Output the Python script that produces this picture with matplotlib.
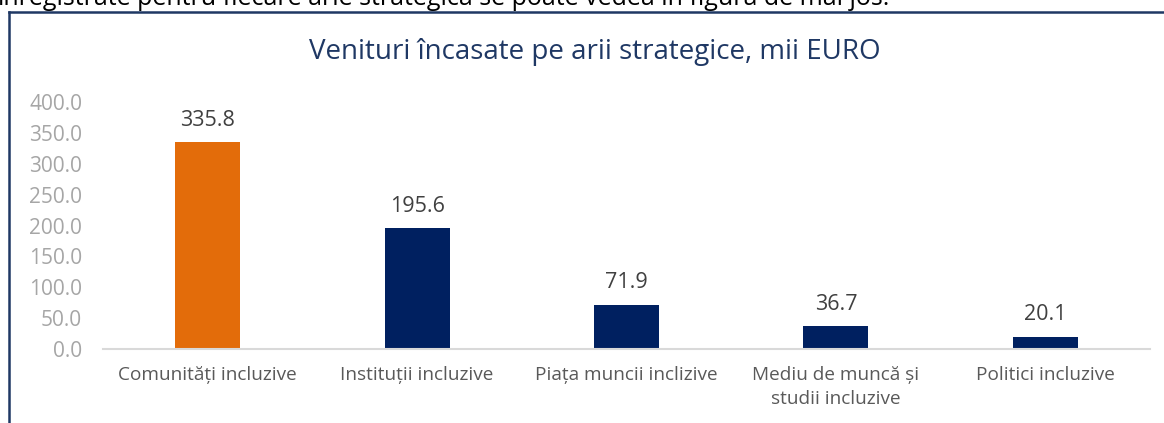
import matplotlib.pyplot as plt
from matplotlib.lines import Line2D

# date
categorii = ["Comunități incluzive", "Instituții incluzive", "Piața muncii inclizive",
             "Mediu de muncă și\nstudii incluzive", "Politici incluzive"]
venituri = [335.8, 195.6, 71.9, 36.7, 20.1]
culori = ['#E36C0A', '#002060', '#002060', '#002060', '#002060']
yticks = [0, 50, 100, 150, 200, 250, 300, 350, 400]

plt.rcParams['font.family'] = ['Open Sans', 'DejaVu Sans']

fig = plt.figure(figsize=(11.64, 4.23), dpi=100)
ax = fig.add_axes([103 / 1164, 1 - 349 / 423, 1047 / 1164, 247 / 423])

x = range(len(categorii))
bars = ax.bar(x, venituri, width=0.31, color=culori, zorder=2)
for b, v in zip(bars, venituri):
    ax.annotate(f'{v:.1f}', (b.get_x() + b.get_width() / 2, v), xytext=(0, 8),
                textcoords='offset points', ha='center', va='bottom',
                fontsize=15.5, color='#404040')

ax.set_xlim(-0.5, len(categorii) - 0.5)
ax.set_ylim(0, 400)
ax.set_yticks(yticks)
ax.set_yticklabels([f'{t:.1f}' for t in yticks], fontsize=15, color='#A6A6A6')
ax.set_xticks(list(x))
ax.set_xticklabels(categorii, fontsize=13.7, color='#595959', linespacing=1.45)
ax.tick_params(axis='both', length=0)
ax.tick_params(axis='x', pad=12)
ax.tick_params(axis='y', pad=15)
for s in ['top', 'right', 'left']:
    ax.spines[s].set_visible(False)
ax.spines['bottom'].set_color('#D9D9D9')
ax.spines['bottom'].set_linewidth(1.5)

fig.text(595 / 1164, 1 - 52 / 423, 'Venituri încasate pe arii strategice, mii EURO',
         ha='center', va='center', fontsize=20, color='#1F3864')

# textul din document, taiat sus (ca in original)
fig.text(-0.002, 1 - 5 / 423,
         'înregistrate pentru fiecare arie strategică se poate vedea în figura de mai jos.',
         ha='left', va='baseline', fontsize=18, color='#000000')

# cadrul graficului
fig.add_artist(Line2D([9 / 1164, 9 / 1164], [0, 1 - 12 / 423], color='#1F3864', lw=1.8,
                      transform=fig.transFigure))
fig.add_artist(Line2D([9 / 1164, 1], [1 - 12 / 423, 1 - 12 / 423], color='#1F3864', lw=1.8,
                      transform=fig.transFigure))

fig.savefig('out.png', dpi=100)
